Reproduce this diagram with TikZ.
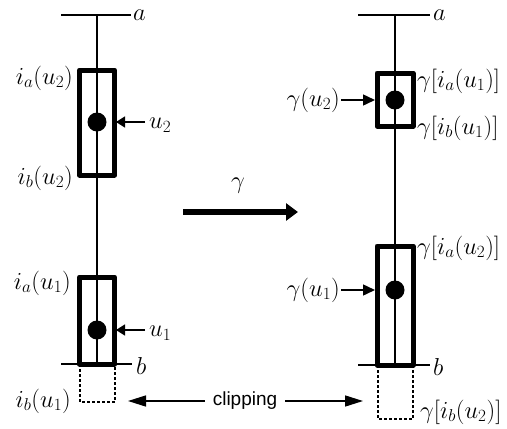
\RequirePackage{fix-cm}
\documentclass[tikz,border=0pt]{standalone}
\usepackage{fontspec}
\newfontfamily\helv{Liberation Sans}
\usetikzlibrary{arrows.meta}
\begin{document}
\begin{tikzpicture}[x=1pt,y=-1pt,
  thinln/.style={line width=1.6pt},
  boxln/.style={line width=5pt,line join=round},
  clipln/.style={line width=2pt,dash pattern=on 3pt off 2pt},
  dot/.style={circle,fill=black,minimum size=19pt,inner sep=0pt},
  lbl/.style={font=\fontsize{24.5}{29}\selectfont,inner sep=1pt},
  plbl/.style={font=\fontsize{24.5}{29}\selectfont,inner sep=4pt},
  ptr/.style={line width=1.5pt,-{Triangle[length=9pt,width=11pt]}},
  gptr/.style={line width=1.5pt,-{Triangle[length=12pt,width=11pt]}},
  cptr/.style={line width=1.5pt,-{Triangle[length=18pt,width=11pt]}},
  bigptr/.style={line width=5.5pt,-{Triangle[length=12pt,width=17pt]}}]
\useasboundingbox (0,0) rectangle (507,429);
% ---------- left ----------
\coordinate (LA1) at (61,15);
\coordinate (LA2) at (131,15);
\coordinate (LTop) at (97,15);
\coordinate (LB1) at (61,364);
\coordinate (LB2) at (132,364);
\coordinate (LBot) at (97,364);
\draw[thinln] (LA1) -- (LA2);
\draw[thinln] (LB1) -- (LB2);
\draw[thinln] (LTop) -- (LBot);
\node[lbl,anchor=west] (la) at (132,15) {$a$};
\node[lbl,anchor=west] (lb) at (135,366) {$b$};
\draw[boxln] (79.5,70) rectangle (114.5,175);
\draw[boxln] (79.5,277) rectangle (114.5,364);
\draw[clipln] (80,364) -- (80,402) -- (115,402) -- (115,364);
\node[dot] (du2) at (97,122) {};
\node[dot] (du1) at (97,330) {};
\coordinate (tu2) at (116,122);
\coordinate (tu1) at (116,330);
\node[plbl,anchor=west] (u2) at (145,125) {$u_2$};
\node[plbl,anchor=west] (u1) at (145,333) {$u_1$};
\draw[ptr] (u2.west |- tu2) -- (tu2);
\draw[ptr] (u1.west |- tu1) -- (tu1);
\node[lbl,anchor=east] (iau2) at (74,78) {$i_a(u_2)$};
\node[lbl,anchor=east] (ibu2) at (74,178) {$i_b(u_2)$};
\node[lbl,anchor=east] (iau1) at (72,283) {$i_a(u_1)$};
\node[lbl,anchor=east] (ibu1) at (72,401) {$i_b(u_1)$};
% ---------- right ----------
\coordinate (RA1) at (358,15);
\coordinate (RA2) at (430,15);
\coordinate (RTop) at (395,15);
\coordinate (RB1) at (358,365);
\coordinate (RB2) at (430,365);
\coordinate (RBot) at (395,365);
\draw[thinln] (RA1) -- (RA2);
\draw[thinln] (RB1) -- (RB2);
\draw[thinln] (RTop) -- (RBot);
\node[lbl,anchor=west] (ra) at (432,15) {$a$};
\node[lbl,anchor=west] (rb) at (432,367) {$b$};
\draw[boxln] (377,73) rectangle (413,126);
\draw[boxln] (377,246) rectangle (413,365);
\draw[clipln] (378,365) -- (378,419) -- (413,419) -- (413,365);
\node[dot] (gdu2) at (395,100) {};
\node[dot] (gdu1) at (395,290) {};
\coordinate (gtu2) at (375,100);
\coordinate (gtu1) at (375,290);
\node[lbl,anchor=east] (gu2) at (341,100) {$\gamma(u_2)$};
\node[lbl,anchor=east] (gu1) at (341,290) {$\gamma(u_1)$};
\draw[gptr] (gu2.east |- gtu2) -- (gtu2);
\draw[gptr] (gu1.east |- gtu1) -- (gtu1);
\node[lbl,anchor=west] (giau1) at (416,81) {$\gamma[i_a(u_1)]$};
\node[lbl,anchor=west] (gibu1) at (416,128) {$\gamma[i_b(u_1)]$};
\node[lbl,anchor=west] (giau2) at (416,248) {$\gamma[i_a(u_2)]$};
\node[lbl,anchor=west] (gibu2) at (419,412) {$\gamma[i_b(u_2)]$};
% ---------- middle ----------
\coordinate (G1) at (183,212);
\coordinate (G2) at (298,212);
\draw[bigptr] (G1) -- (G2);
\node[lbl] (gam) at (238,186) {$\gamma$};
\node[font=\helv\fontsize{19}{23}\selectfont,inner sep=8pt] (clip) at (245,401) {clipping};
\coordinate (CL) at (128,401);
\coordinate (CR) at (363,401);
\draw[cptr] (clip.west) -- (CL);
\draw[cptr] (clip.east) -- (CR);
\end{tikzpicture}
\end{document}
